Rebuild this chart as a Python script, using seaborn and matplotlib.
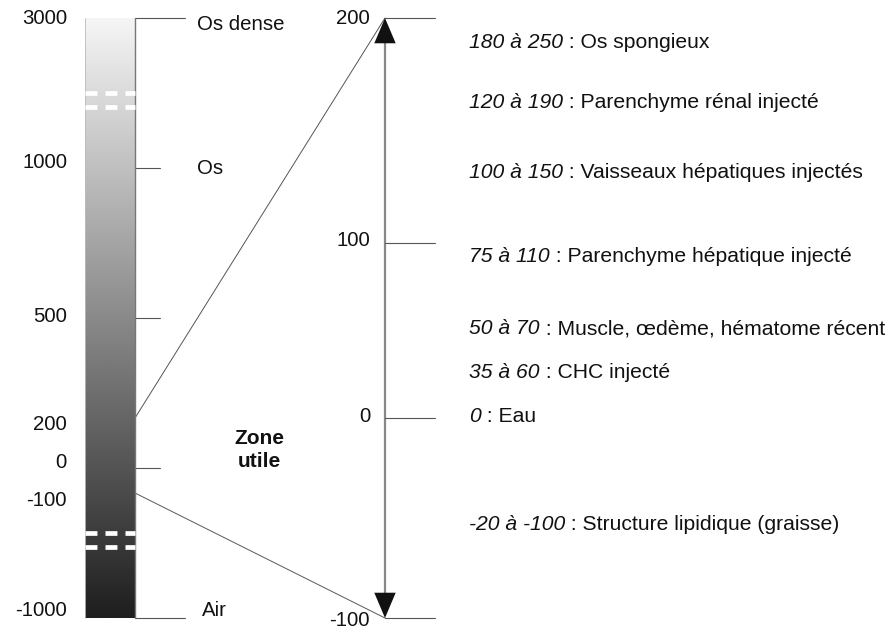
import numpy as np
import matplotlib
matplotlib.use("Agg")
import matplotlib.pyplot as plt
import seaborn as sns

# --- data ---------------------------------------------------------------
left_values = [3000, 1000, 500, 200, 0, -100, -1000]
left_names = ["Os dense", "Os", "Air"]
left_named_values = [3000, 1000, -1000]
zone_limits = [200, -100]
right_values = [200, 100, 0, -100]
ranges = ["180 à 250", "120 à 190", "100 à 150", "75 à 110",
          "50 à 70", "35 à 60", "0", "-20 à -100"]
tissues = ["Os spongieux", "Parenchyme rénal injecté",
           "Vaisseaux hépatiques injectés", "Parenchyme hépatique injecté",
           "Muscle, œdème, hématome récent", "CHC injecté", "Eau",
           "Structure lipidique (graisse)"]

# --- layout (pixel positions of the drawing) ----------------------------
left_tick_y = {3000: 18, 1000: 168, 500: 318, 200: 418, 0: 468, -100: 493, -1000: 618}
left_label_y = {3000: 18, 1000: 162, 500: 317, 200: 425, 0: 462, -100: 500, -1000: 610}
name_pos = {3000: (197, 25), 1000: (197, 168), -1000: (202, 610)}
right_tick_y = {200: 18, 100: 243, 0: 418, -100: 618}
right_label_y = {200: 18, 100: 240, 0: 417, -100: 621}
row_y = [42, 102, 172, 256, 328, 372, 416, 524]
bar_x0, bar_x1 = 85, 135
axis_x = 385

sns.set_theme(style="white")
plt.rcParams['font.family'] = ['Liberation Sans', 'DejaVu Sans']
plt.rcParams['lines.scale_dashes'] = False

fig = plt.figure(figsize=(8.93, 6.30), dpi=100)
ax = fig.add_axes([0, 0, 1, 1])
ax.set_xlim(0, 893)
ax.set_ylim(630, 0)
ax.axis('off')

fs = 14.7
fs_right = 15.2
txt = '#111111'
line = '#555555'

# grey gradient bar
grad = np.linspace(0.96, 0.12, 256).reshape(-1, 1)
ax.imshow(grad, cmap='gray', vmin=0, vmax=1, aspect='auto',
          extent=[bar_x0, bar_x1, left_tick_y[-1000], left_tick_y[3000]],
          interpolation='bilinear', zorder=1)
ax.plot([bar_x1, bar_x1], [left_tick_y[3000], left_tick_y[-1000]], color='#777777', lw=1, zorder=3)
ax.plot([bar_x0, bar_x0], [left_tick_y[3000], left_tick_y[-1000]], color='#bbbbbb', lw=0.6, zorder=3)

# scale breaks
for yb in [93, 107, 533, 547]:
    ax.plot([bar_x0, bar_x1], [yb, yb], color='white', lw=3.4,
            dashes=(8.6, 5.8), solid_capstyle='butt', dash_capstyle='butt', zorder=4)

# left ticks and labels
for v in left_values:
    ax.text(67, left_label_y[v], str(v), ha='right', va='center', fontsize=fs, color=txt)
for v in [1000, 500, 0]:
    ax.plot([bar_x1, 160], [left_tick_y[v]] * 2, color=line, lw=0.8)
for v in [3000, -1000]:
    ax.plot([bar_x1, 185], [left_tick_y[v]] * 2, color=line, lw=0.8)
for name, v in zip(left_names, left_named_values):
    ax.text(*name_pos[v], name, ha='left', va='center', fontsize=fs, color=txt)

ax.text(259, 450, "Zone\nutile", ha='center', va='center', fontsize=15,
        fontweight='bold', color=txt, linespacing=1.25)

# zoom lines
ax.plot([bar_x1, axis_x], [left_tick_y[zone_limits[0]], right_tick_y[200]], color=line, lw=0.7)
ax.plot([bar_x1, axis_x], [left_tick_y[zone_limits[1]], right_tick_y[-100]], color=line, lw=0.7)

# right axis
ax.plot([axis_x, axis_x], [right_tick_y[200] + 10, right_tick_y[-100] - 10], color='#888888', lw=1.6)
for tip, base in [(right_tick_y[200], right_tick_y[200] + 20), (right_tick_y[-100], right_tick_y[-100] - 20)]:
    ax.annotate('', xy=(axis_x, tip), xytext=(axis_x, base),
                arrowprops=dict(arrowstyle='-|>,head_length=1.3,head_width=0.55',
                                color='#111111', lw=0, shrinkA=0, shrinkB=0,
                                mutation_scale=14))
for v in right_values:
    ax.plot([axis_x, 435], [right_tick_y[v]] * 2, color=line, lw=0.8)
    ax.text(370, right_label_y[v], str(v), ha='right', va='center', fontsize=fs, color=txt)

# tissue list
for r, t, y in zip(ranges, tissues, row_y):
    a = ax.text(469, y + 1, r, ha='left', va='center', fontsize=fs_right, style='italic', color=txt)
    ax.annotate(" : " + t, xy=(1, 0), xycoords=a, ha='left', va='bottom',
                fontsize=fs_right, color=txt)

fig.savefig('out.png', dpi=100, facecolor='white')
